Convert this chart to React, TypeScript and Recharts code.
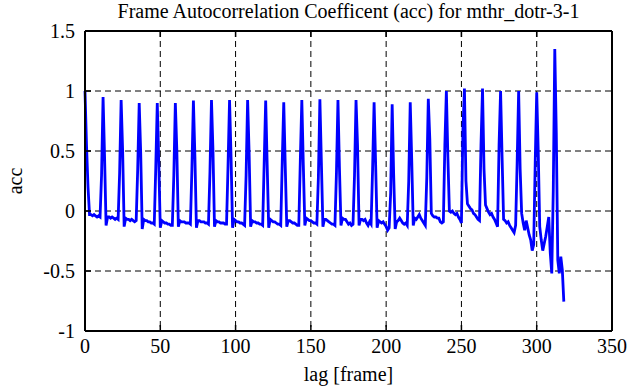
import React from 'react';
import { LineChart, Line, XAxis, YAxis, CartesianGrid } from 'recharts';

// autocorrelation coefficient per lag (frames 0..318), one row per 12-frame period
const accValues: number[] = [
  1.0, 0.55, 0.2, -0.03, -0.03, -0.04, -0.03, -0.04, -0.05, -0.04, -0.05, 0.3,
  0.95, 0.45, -0.12, -0.05, -0.05, -0.06, -0.05, -0.06, -0.07, -0.06, -0.07, 0.32,
  0.925, 0.5, -0.13, -0.06, -0.07, -0.07, -0.08, -0.07, -0.08, -0.09, -0.08, 0.35,
  0.9, 0.48, -0.15, -0.07, -0.08, -0.08, -0.09, -0.09, -0.1, -0.1, -0.11, 0.36,
  0.9, 0.4, -0.14, -0.08, -0.09, -0.1, -0.1, -0.11, -0.11, -0.12, -0.12, 0.3,
  0.9, 0.5, -0.13, -0.08, -0.09, -0.09, -0.09, -0.1, -0.1, -0.1, -0.11, 0.35,
  0.92, 0.45, -0.14, -0.08, -0.08, -0.09, -0.09, -0.09, -0.1, -0.1, -0.11, 0.33,
  0.925, 0.5, -0.13, -0.08, -0.09, -0.09, -0.1, -0.1, -0.1, -0.11, -0.11, 0.38,
  0.925, 0.45, -0.14, -0.07, -0.08, -0.09, -0.09, -0.1, -0.1, -0.11, -0.12, 0.3,
  0.925, 0.48, -0.13, -0.08, -0.09, -0.09, -0.1, -0.1, -0.11, -0.11, -0.12, 0.4,
  0.92, 0.38, -0.14, -0.07, -0.08, -0.09, -0.09, -0.1, -0.11, -0.11, -0.12, 0.41,
  0.905, 0.37, -0.13, -0.08, -0.08, -0.09, -0.1, -0.1, -0.11, -0.12, -0.12, 0.42,
  0.925, 0.38, -0.12, -0.06, -0.07, -0.08, -0.08, -0.09, -0.1, -0.1, -0.11, 0.28,
  0.93, 0.4, -0.13, -0.07, -0.07, -0.08, -0.09, -0.1, -0.11, -0.11, -0.12, 0.32,
  0.925, 0.35, -0.12, -0.06, -0.07, -0.07, -0.09, -0.11, -0.1, -0.12, -0.11, 0.3,
  0.925, 0.55, -0.12, -0.07, -0.07, -0.08, -0.07, -0.1, -0.12, -0.09, -0.11, 0.35,
  0.905, 0.4, -0.14, -0.08, -0.09, -0.1, -0.09, -0.11, -0.13, -0.16, -0.14, 0.15,
  0.89, 0.3, -0.15, -0.09, -0.08, -0.06, -0.08, -0.1, -0.11, -0.1, -0.12, 0.25,
  0.905, 0.42, -0.12, -0.06, -0.07, -0.05, -0.03, -0.06, -0.08, -0.1, -0.12, 0.28,
  0.935, 0.6, -0.02, -0.04, -0.05, -0.05, -0.06, -0.06, -0.09, -0.1, -0.09, 0.55,
  1.0, 0.45, 0.0, -0.01, 0.0, -0.02, -0.03, -0.02, -0.05, -0.07, -0.1, 0.68,
  1.02, 0.25, 0.06, 0.04, 0.02, 0.01, -0.02, -0.03, -0.05, -0.07, -0.08, 0.55,
  1.02, 0.35, 0.05, 0.02, -0.01, -0.03, -0.02, -0.05, -0.07, -0.1, -0.13, 0.55,
  1.0, 0.45, -0.07, -0.08, -0.1, -0.09, -0.12, -0.14, -0.16, -0.18, -0.12, 0.4,
  1.0, 0.35, -0.02, -0.1, -0.16, -0.08, -0.14, -0.2, -0.24, -0.33, -0.28, 0.4,
  0.99, 0.5, -0.13, -0.24, -0.33, -0.27, -0.21, -0.13, -0.05, -0.35, -0.52, 0.175,
  1.35, 0.65, -0.41, -0.52, -0.38, -0.49, -0.755,
];

const xTicks = [0, 50, 100, 150, 200, 250, 300, 350];
const yTicks = [-1, -0.5, 0, 0.5, 1, 1.5];

const data = accValues.map((acc, lag) => ({ lag, acc }));

const W = 641;
const H = 387;
const LEFT = 85;
const RIGHT = 612;
const TOP = 31;
const BOTTOM = 331;
const TICK = 6;
const FONT = '"Liberation Serif", "Times New Roman", serif';
const textStyle = { fontFamily: FONT, fontSize: 20 };

const BottomTick = (p: any) => (
  <g>
    <line x1={p.x} x2={p.x} y1={BOTTOM} y2={BOTTOM - TICK} stroke="#000" strokeWidth={1.5} />
    <text x={p.x} y={BOTTOM + 22} textAnchor="middle" style={textStyle} fill="#000">
      {p.payload.value}
    </text>
  </g>
);

const LeftTick = (p: any) => (
  <g>
    <line x1={LEFT} x2={LEFT + TICK} y1={p.y} y2={p.y} stroke="#000" strokeWidth={1.5} />
    <text x={LEFT - 10} y={p.y + 7} textAnchor="end" style={textStyle} fill="#000">
      {p.payload.value}
    </text>
  </g>
);

const TopTick = (p: any) => (
  <line x1={p.x} x2={p.x} y1={TOP} y2={TOP + TICK} stroke="#000" strokeWidth={1.5} />
);

const RightTick = (p: any) => (
  <line x1={RIGHT} x2={RIGHT - TICK} y1={p.y} y2={p.y} stroke="#000" strokeWidth={1.5} />
);

export default function App() {
  return (
    <div style={{ position: 'fixed', left: 0, top: 0, width: W, height: H, background: '#fff', fontFamily: FONT }}>
      <div style={{ position: 'absolute', left: LEFT - 40, width: RIGHT - LEFT + 80, top: 0, textAlign: 'center', fontSize: 20, lineHeight: '22px', whiteSpace: 'nowrap' }}>
        Frame Autocorrelation Coefficent (acc) for mthr_dotr-3-1
      </div>
      <div style={{ position: 'absolute', left: LEFT, width: RIGHT - LEFT, top: 363, textAlign: 'center', fontSize: 20, lineHeight: '22px' }}>
        lag [frame]
      </div>
      <div
        style={{
          position: 'absolute', left: 15, top: 181, fontSize: 20, lineHeight: '22px',
          transform: 'translate(-50%, -50%) rotate(-90deg)', whiteSpace: 'nowrap',
        }}
      >
        acc
      </div>
      <LineChart width={W} height={H} data={data} margin={{ top: TOP - 1, right: W - RIGHT - 1, bottom: 0, left: 0 }}>
        <CartesianGrid xAxisId="bottom" yAxisId="left" stroke="#000" strokeDasharray="6 4" strokeWidth={1} />
        <XAxis
          xAxisId="bottom" dataKey="lag" type="number" domain={[0, 350]} ticks={xTicks}
          height={H - BOTTOM} axisLine={{ stroke: '#000', strokeWidth: 2 }} tickLine={false} tick={BottomTick}
        />
        <XAxis
          xAxisId="top" orientation="top" dataKey="lag" type="number" domain={[0, 350]} ticks={xTicks}
          height={1} axisLine={{ stroke: '#000', strokeWidth: 2 }} tickLine={false} tick={TopTick}
        />
        <YAxis
          yAxisId="left" type="number" domain={[-1, 1.5]} ticks={yTicks} width={LEFT}
          axisLine={{ stroke: '#000', strokeWidth: 2 }} tickLine={false} tick={LeftTick}
        />
        <YAxis
          yAxisId="right" orientation="right" type="number" domain={[-1, 1.5]} ticks={yTicks} width={1}
          axisLine={{ stroke: '#000', strokeWidth: 2 }} tickLine={false} tick={RightTick}
        />
        <Line
          xAxisId="bottom" yAxisId="left" type="linear" dataKey="acc" stroke="#0000ff"
          strokeWidth={2.8} dot={false} isAnimationActive={false}
        />
      </LineChart>
    </div>
  );
}
